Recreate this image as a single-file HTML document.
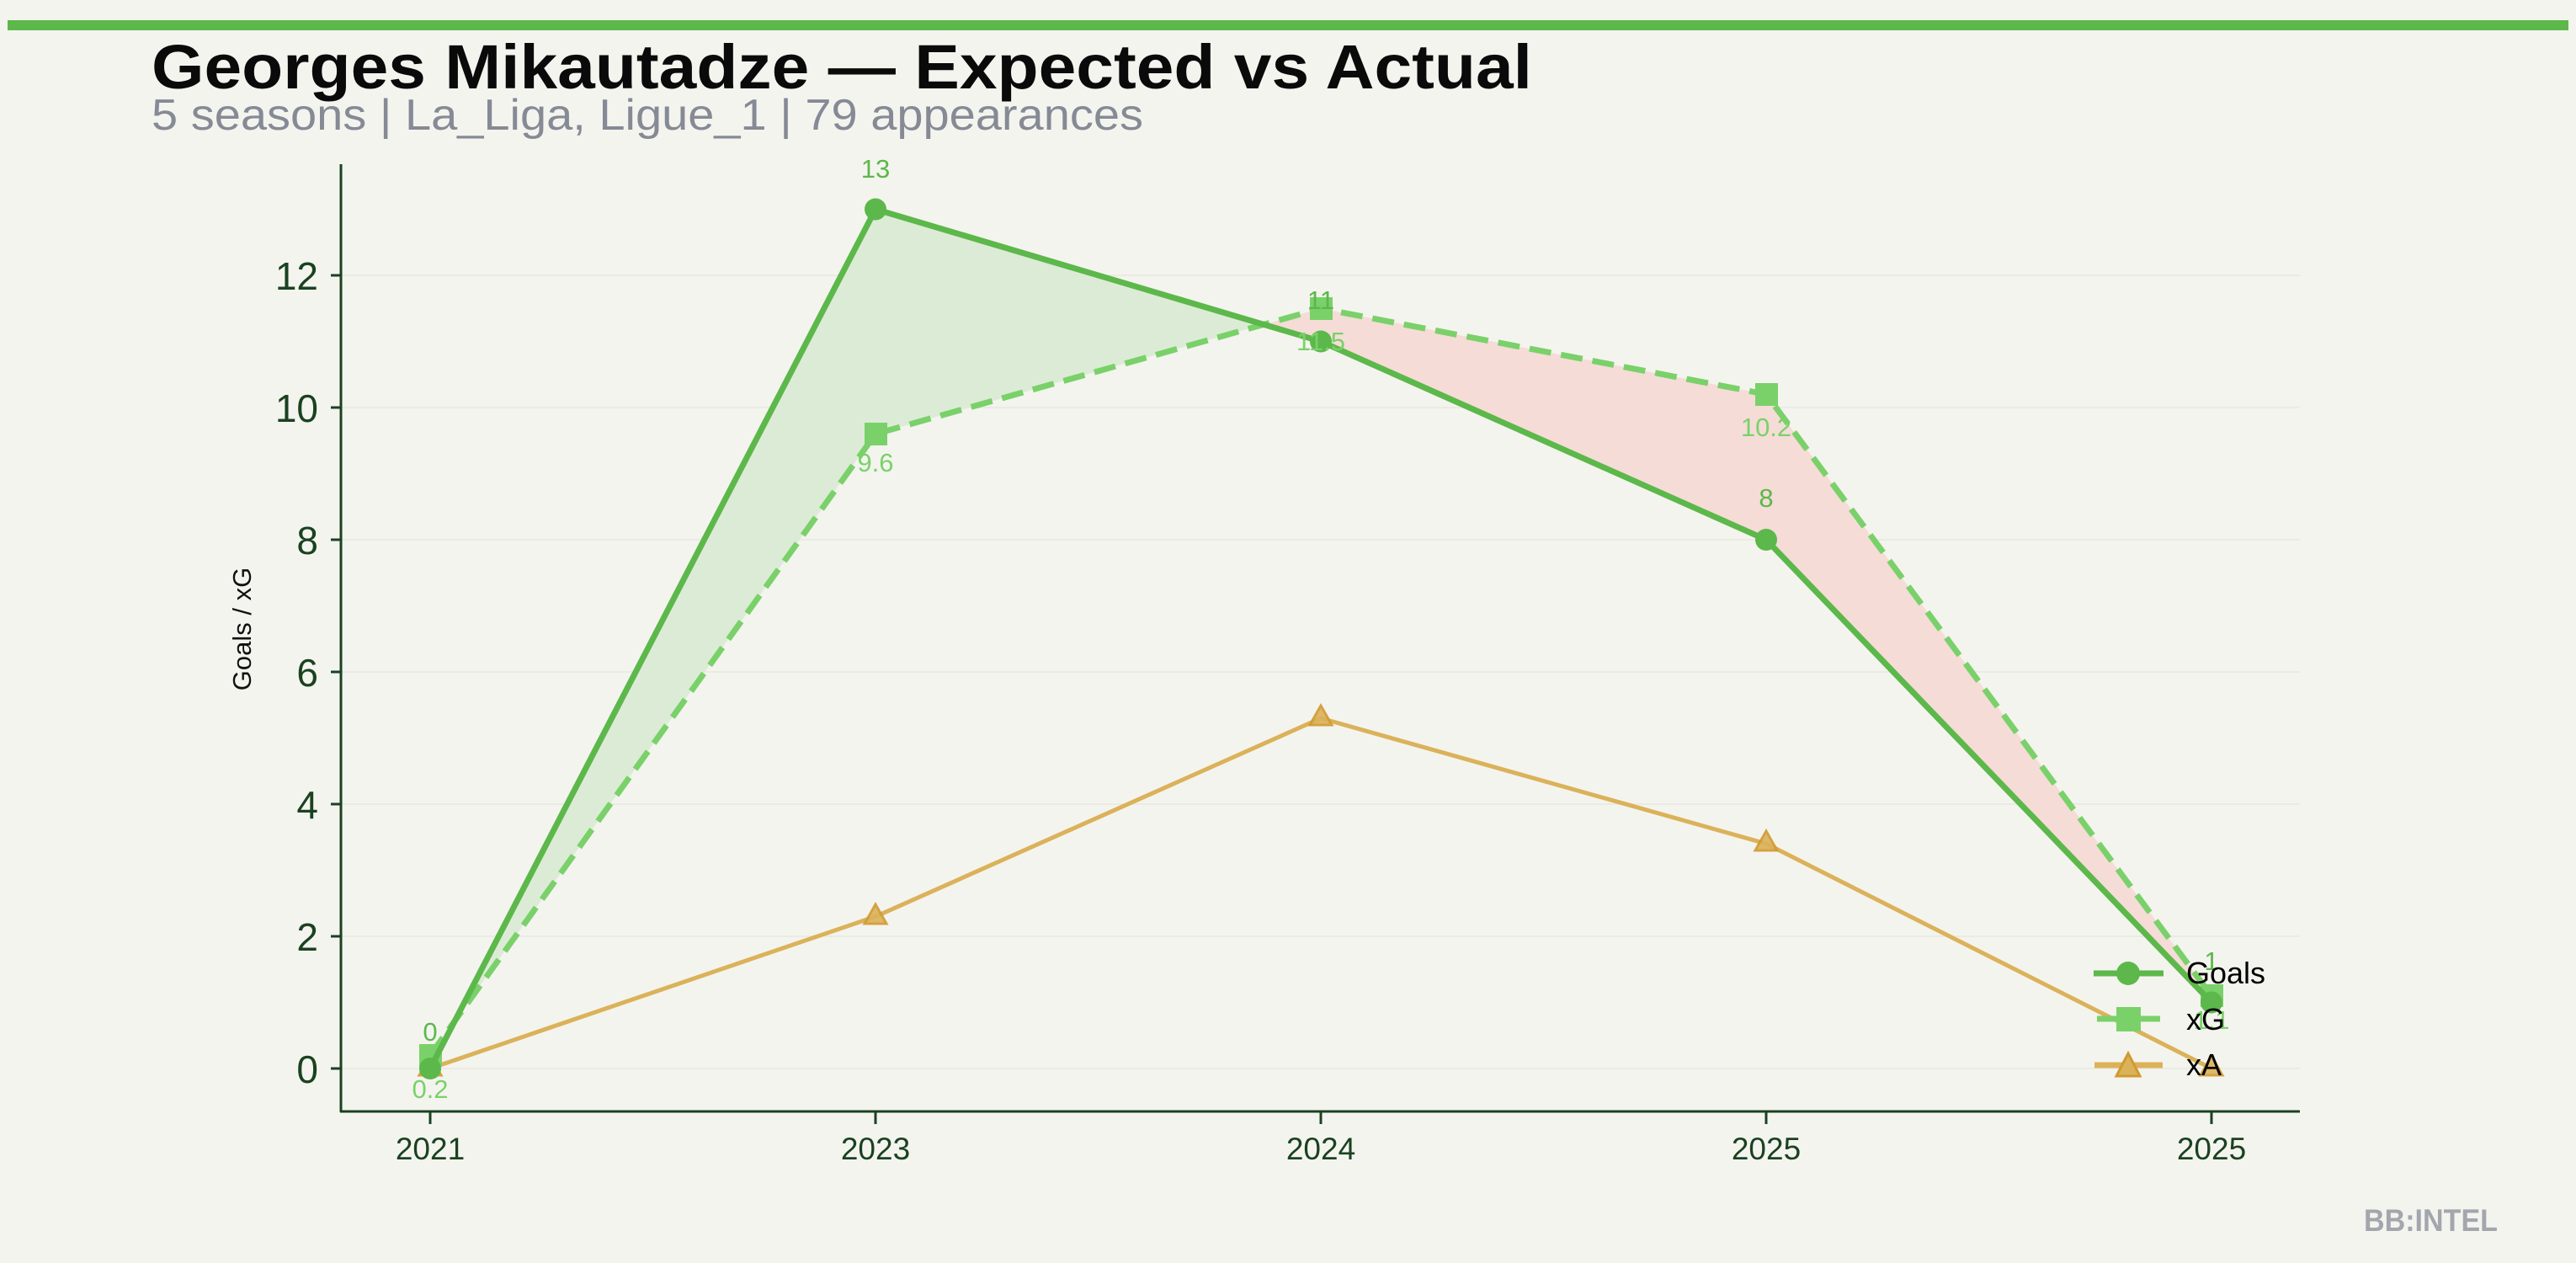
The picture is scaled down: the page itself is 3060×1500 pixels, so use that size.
<!DOCTYPE html>
<html><head><meta charset="utf-8"><style>
html,body{margin:0;padding:0;background:#f4f4ef;}
svg{display:block;font-family:"Liberation Sans",sans-serif;}
</style></head><body>
<svg width="3060" height="1500" viewBox="0 0 3060 1500" xmlns="http://www.w3.org/2000/svg">
<rect width="3060" height="1500" fill="#f4f4ef"/>
<rect x="9" y="24" width="3042" height="12" fill="#5cb84a"/>
<text x="180" y="105" font-size="74" font-weight="bold" fill="#0a0a0a" textLength="1640" lengthAdjust="spacingAndGlyphs">Georges Mikautadze — Expected vs Actual</text>
<text x="180" y="154" font-size="52" fill="#858a95" textLength="1178" lengthAdjust="spacingAndGlyphs">5 seasons | La_Liga, Ligue_1 | 79 appearances</text>
<!-- grid -->
<g stroke="#ebebe4" stroke-width="2">
<line x1="405" x2="2732" y1="1269" y2="1269"/><line x1="405" x2="2732" y1="1112" y2="1112"/>
<line x1="405" x2="2732" y1="955" y2="955"/><line x1="405" x2="2732" y1="798" y2="798"/>
<line x1="405" x2="2732" y1="641" y2="641"/><line x1="405" x2="2732" y1="484" y2="484"/>
<line x1="405" x2="2732" y1="327" y2="327"/>
</g>
<!-- fills -->
<polygon points="540.6,1211.9 1040,248.5 1501.3,385.4 1040,515.4" fill="#dcebd6"/>
<polygon points="1501.3,385.4 1569,405.5 2098,641 2627,1190.5 2627,1182.65 2098,468.3 1569,366.25" fill="#f5dcd7"/>
<polygon points="511,1269 540.6,1211.9 511,1253.3" fill="#f5dcd7"/>
<!-- axes -->
<g stroke="#1a4220" stroke-width="3" fill="none">
<line x1="405" y1="195" x2="405" y2="1321"/>
<line x1="404" y1="1320" x2="2732" y2="1320"/>
<g stroke-width="3">
<line x1="393" x2="405" y1="1269" y2="1269"/><line x1="393" x2="405" y1="1112" y2="1112"/>
<line x1="393" x2="405" y1="955" y2="955"/><line x1="393" x2="405" y1="798" y2="798"/>
<line x1="393" x2="405" y1="641" y2="641"/><line x1="393" x2="405" y1="484" y2="484"/>
<line x1="393" x2="405" y1="327" y2="327"/>
<line x1="511" x2="511" y1="1320" y2="1335"/><line x1="1040" x2="1040" y1="1320" y2="1335"/>
<line x1="1569" x2="1569" y1="1320" y2="1335"/><line x1="2098" x2="2098" y1="1320" y2="1335"/>
<line x1="2627" x2="2627" y1="1320" y2="1335"/>
</g></g>
<g font-size="46" fill="#1a4220" text-anchor="end">
<text x="378" y="1286">0</text><text x="378" y="1129">2</text><text x="378" y="972">4</text>
<text x="378" y="815">6</text><text x="378" y="658">8</text><text x="378" y="501">10</text><text x="378" y="344">12</text>
</g>
<g font-size="37" fill="#1a4220" text-anchor="middle">
<text x="511" y="1377">2021</text><text x="1040" y="1377">2023</text><text x="1569" y="1377">2024</text>
<text x="2098" y="1377">2025</text><text x="2627" y="1377">2025</text>
</g>
<text transform="translate(298,747) rotate(-90)" font-size="31" fill="#111" text-anchor="middle">Goals / xG</text>
<!-- xA -->
<polyline points="511,1269 1040,1088.5 1569,853 2098,1002 2627,1269" fill="none" stroke="#dbb25a" stroke-width="5"/>
<g fill="#dbb25a" stroke="#d09a30" stroke-width="3" opacity="0.9">
<polygon points="511,1254 524,1277 498,1277"/><polygon points="1040,1074 1053,1097 1027,1097"/>
<polygon points="1569,838 1582,861 1556,861"/><polygon points="2098,987 2111,1010 2085,1010"/>
<polygon points="2627,1254 2640,1277 2614,1277"/>
</g>
<!-- xG -->
<polyline points="511,1253.3 1040,515.4 1569,366.25 2098,468.3 2627,1182.65" fill="none" stroke="#7ad16a" stroke-width="7" stroke-dasharray="26,12"/>
<g fill="#7ad16a">
<rect x="498" y="1240" width="27" height="27"/><rect x="1027" y="502" width="27" height="27"/>
<rect x="1556" y="353" width="27" height="27"/><rect x="2085" y="455" width="27" height="27"/>
<rect x="2614" y="1169" width="27" height="27"/>
</g>
<!-- Goals -->
<polyline points="511,1269 1040,248.5 1569,405.5 2098,641 2627,1190.5" fill="none" stroke="#5cb84a" stroke-width="7"/>
<g fill="#5cb84a">
<circle cx="511" cy="1269" r="13"/><circle cx="1040" cy="248.5" r="13"/><circle cx="1569" cy="405.5" r="13"/>
<circle cx="2098" cy="641" r="13"/><circle cx="2627" cy="1190.5" r="13"/>
</g>
<!-- labels -->
<g font-size="31" text-anchor="middle" fill="#5cb84a">
<text x="511" y="1236">0</text><text x="1040" y="211">13</text><text x="1569" y="367">11</text>
<text x="2098" y="602">8</text><text x="2627" y="1152">1</text>
</g>
<g font-size="31" text-anchor="middle" fill="#7ad16a">
<text x="511" y="1304">0.2</text><text x="1040" y="560">9.6</text><text x="1569" y="416">11.5</text>
<text x="2098" y="518">10.2</text><text x="2627" y="1222">1.1</text>
</g>
<!-- legend -->
<line x1="2487" x2="2570" y1="1156" y2="1156" stroke="#5cb84a" stroke-width="7"/>
<circle cx="2528" cy="1156" r="14" fill="#5cb84a"/>
<line x1="2491" x2="2566" y1="1210" y2="1210" stroke="#7ad16a" stroke-width="7"/>
<rect x="2514" y="1196" width="29" height="29" fill="#7ad16a"/>
<line x1="2488" x2="2569" y1="1265" y2="1265" stroke="#dbb25a" stroke-width="7"/>
<polygon points="2528,1251 2542,1278 2514,1278" fill="#dbb25a" stroke="#d09a30" stroke-width="3"/>
<g font-size="36" fill="#000">
<text x="2597" y="1168">Goals</text><text x="2597" y="1223">xG</text><text x="2597" y="1277">xA</text>
</g>
<text x="2808" y="1462" font-size="37" font-weight="bold" fill="#a3a6ad" textLength="159" lengthAdjust="spacingAndGlyphs">BB:INTEL</text>
</svg>
</body></html>
